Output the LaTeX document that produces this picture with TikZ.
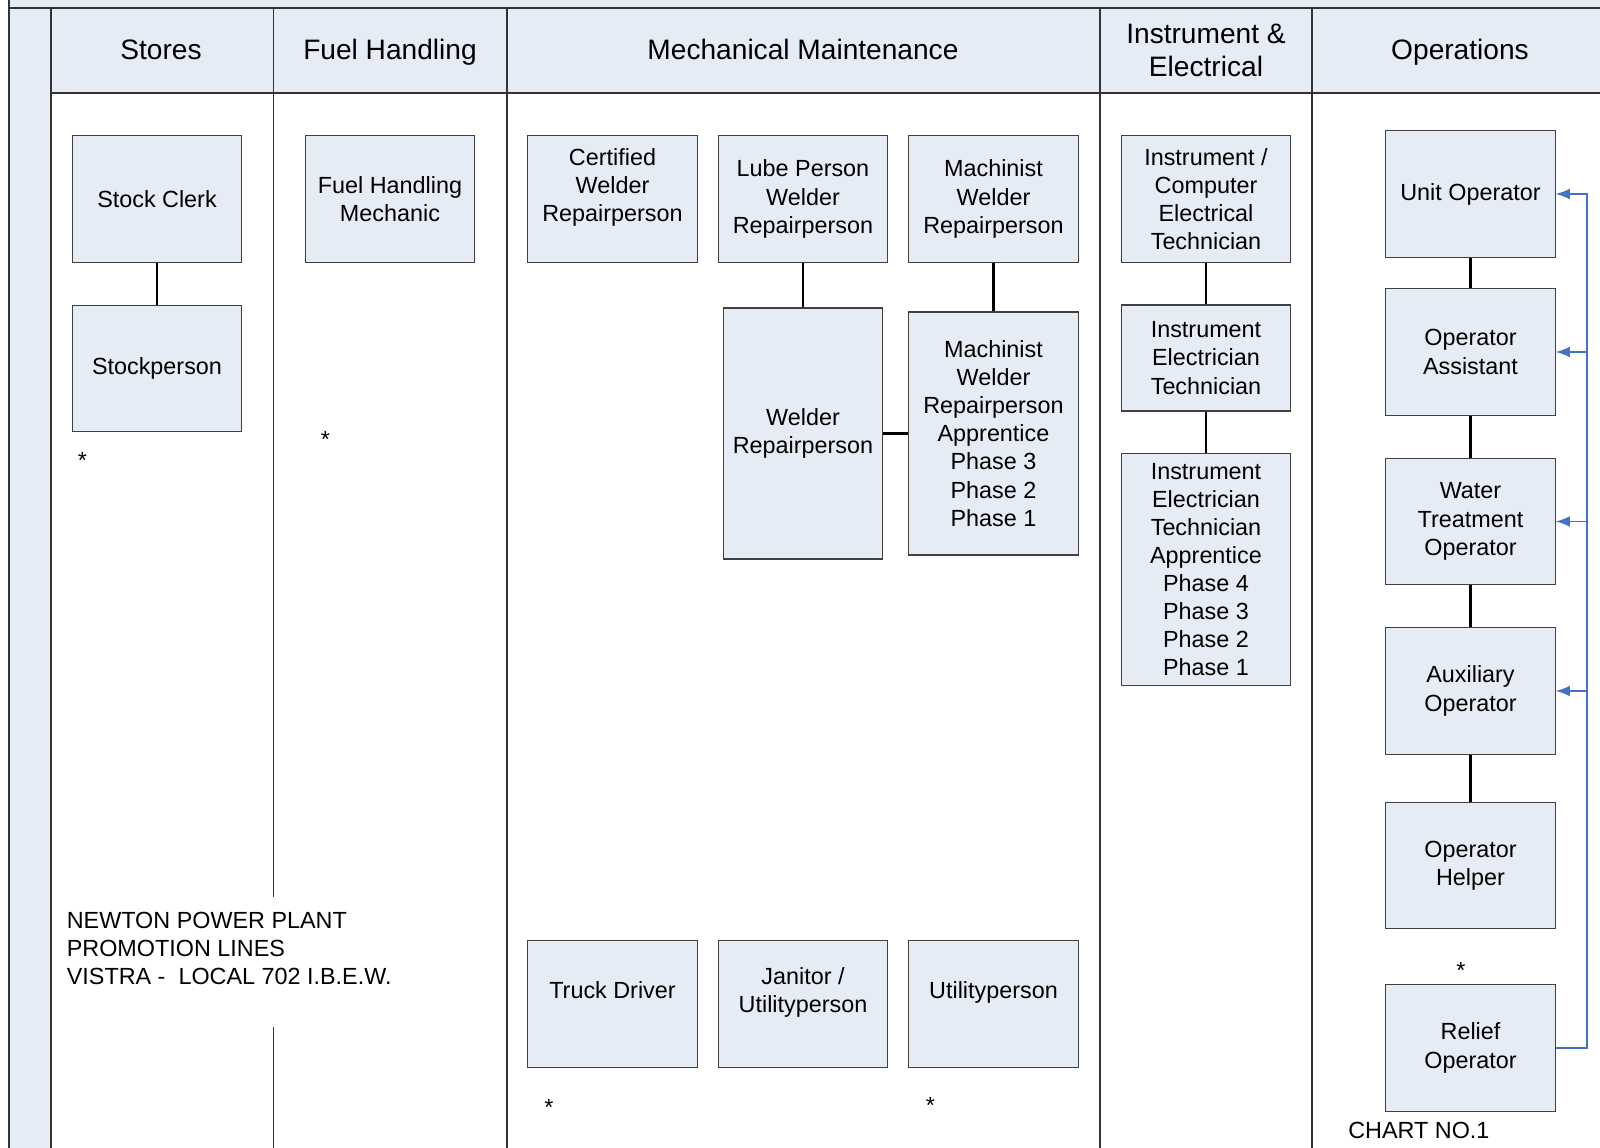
\documentclass[tikz,border=0pt]{standalone}
\usepackage{fontspec}
\setmainfont{Liberation Sans}
\usetikzlibrary{shapes,arrows,arrows.meta}
\definecolor{lanefill}{HTML}{E6ECF6}
\definecolor{flow}{HTML}{4472C4}
\tikzstyle{block} = [rectangle, draw=black!75, fill=lanefill, line width=0.6pt,
    align=center, inner sep=2pt, minimum width=3.39cm, minimum height=2.53cm,
    font=\fontsize{13.3}{16}\selectfont]
\tikzstyle{head} = [align=center, font=\fontsize{16}{19.2}\selectfont]
\tikzstyle{note} = [inner sep=0pt, font=\fontsize{13.3}{16}\selectfont]
\tikzstyle{border} = [draw=black!80, line width=1pt]
\tikzstyle{link} = [draw, line width=1.5pt]
\tikzstyle{line} = [draw, flow, line width=0.6pt, -{Latex[length=8pt,width=6pt]}]

\begin{document}
\begin{tikzpicture}[node distance=3.39cm, auto]
	\useasboundingbox (0,0) rectangle (32,-22.96);
	\clip (0,0) rectangle (32,-22.96);

	% lanes
	\fill[lanefill] (0.18,0) rectangle (32,-0.16);
	\fill[lanefill] (0.18,-0.16) rectangle (1.02,-22.96);
	\fill[lanefill] (1.02,-0.16) rectangle (32,-1.86);
	\draw[border] (0.18,0) -- (0.18,-22.96);
	\draw[border] (0.18,-0.16) -- (32,-0.16);
	\draw[border] (1.02,-1.86) -- (32,-1.86);
	\foreach \x in {1.02,10.14,22.0,26.24}
		\draw[border] (\x,-0.16) -- (\x,-22.96);
	\draw[border] (5.47,-0.16) -- (5.47,-17.94);
	\draw[border] (5.47,-20.54) -- (5.47,-22.96);

	\node [head] (stores) at (3.22,-1.05) {\strut Stores};
	\node [head] (fuel) at (7.80,-1.05) {\strut Fuel Handling};
	\node [head] (mech) at (16.06,-1.05) {\strut Mechanical Maintenance};
	\node [head] (ie) at (24.12,-1.01) {Instrument \&\\Electrical};
	\node [head] (ops) at (29.2,-1.05) {\strut Operations};

	% stores / fuel handling
	\node [block] (stockclerk) at (3.14,-3.98) {Stock Clerk};
	\node [block, below of=stockclerk] (stockperson) {Stockperson};
	\node [block] (fuelmech) at (7.80,-3.98) {Fuel Handling\\Mechanic};

	% mechanical maintenance
	\node [block] (certwelder) at (12.25,-3.98) {Certified\\Welder\\Repairperson\\\mbox{}};
	\node [block, right of=certwelder, node distance=3.81cm] (lube) {Lube Person\\Welder\\Repairperson};
	\node [block, right of=lube, node distance=3.81cm] (machinist) {Machinist\\Welder\\Repairperson};
	\node [block, below of=lube, node distance=4.69cm, minimum width=3.18cm, minimum height=5.02cm] (welder) {Welder\\Repairperson};
	\node [block, below of=machinist, node distance=4.69cm, minimum height=4.86cm] (apprentice) {Machinist\\Welder\\Repairperson\\Apprentice\\Phase 3\\Phase 2\\Phase 1};
	\node [block] (truck) at (12.25,-20.08) {Truck Driver\\\mbox{}};
	\node [block, right of=truck, node distance=3.81cm] (janitor) {Janitor /\\Utilityperson\\\mbox{}};
	\node [block, right of=janitor, node distance=3.81cm] (utility) {Utilityperson\\\mbox{}};

	% instrument & electrical
	\node [block] (instcomp) at (24.12,-3.98) {Instrument /\\Computer\\Electrical\\Technician};
	\node [block, below of=instcomp, node distance=3.18cm, minimum height=2.12cm] (instelec) {Instrument\\Electrician\\Technician};
	\node [block, below of=instelec, node distance=4.23cm, minimum height=4.65cm] (instappr) {Instrument\\Electrician\\Technician\\Apprentice\\Phase 4\\Phase 3\\Phase 2\\Phase 1};

	% operations
	\node [block] (unitop) at (29.41,-3.88) {Unit Operator};
	\node [block, below of=unitop, node distance=3.16cm] (opassist) {Operator\\Assistant};
	\node [block, below of=opassist] (water) {Water\\Treatment\\Operator};
	\node [block, below of=water] (aux) {Auxiliary\\Operator};
	\node [block, below of=aux, node distance=3.49cm] (helper) {Operator\\Helper};
	\node [block, below of=helper, node distance=3.65cm] (relief) {Relief\\Operator};

	\node [note] (star1) at (1.65,-9.2) {*};
	\node [note] (star2) at (6.51,-8.79) {*};
	\node [note] (star3) at (10.98,-22.14) {*};
	\node [note] (star4) at (18.61,-22.1) {*};
	\node [note] (star5) at (29.22,-19.41) {*};

	\node [note, align=left, anchor=west] (title) at (1.33,-18.97) {NEWTON POWER PLANT\\PROMOTION LINES\\VISTRA -\ \ LOCAL 702 I.B.E.W.};
	\node [note, anchor=west] (chart) at (26.96,-22.6) {CHART NO.1};

	\path [link] (stockclerk) -- (stockperson);
	\path [link] (lube) -- (welder);
	\path [link] (machinist) -- (apprentice);
	\path [link] (welder) -- (apprentice);
	\path [link] (instcomp) -- (instelec);
	\path [link] (instelec) -- (instappr);
	\path [link] (unitop) -- (opassist);
	\path [link] (opassist) -- (water);
	\path [link] (water) -- (aux);
	\path [link] (aux) -- (helper);

	\coordinate (riser) at (31.74,-3.88);
	\path [line] (relief.east) -| (riser) -- (unitop.east);
	\foreach \n in {opassist,water,aux}
		\path [line] (\n.east -| riser) -- (\n.east);
\end{tikzpicture}
\end{document}
